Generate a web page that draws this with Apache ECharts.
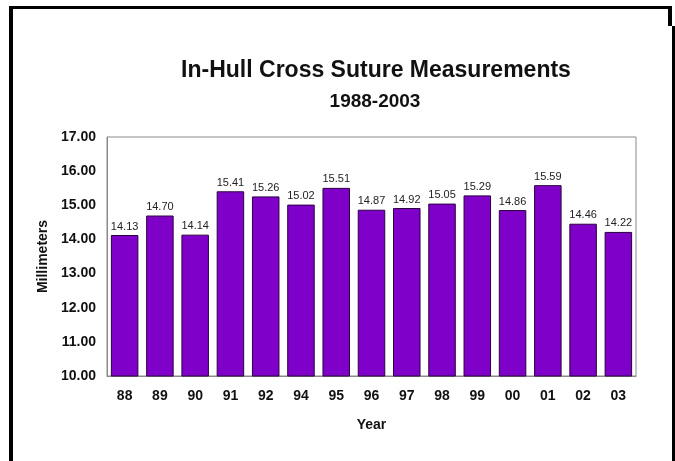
<!DOCTYPE html>
<html>
<head>
<meta charset="utf-8">
<script src="https://cdn.jsdelivr.net/npm/echarts@6/dist/echarts.min.js"></script>
<style>
  html, body { margin: 0; padding: 0; background: #fff; }
  #main { width: 675px; height: 461px; position: relative; }
  .frame { position: absolute; background: #000; }
</style>
</head>
<body>
<div id="main"></div>
<div class="frame" style="left:9px;top:6px;width:4px;height:455px"></div>
<div class="frame" style="left:9px;top:6px;width:663px;height:3px"></div>
<div class="frame" style="left:668px;top:6px;width:4px;height:20px"></div>
<div class="frame" style="left:672px;top:26px;width:3px;height:435px"></div>
<script>
  // values
  const years = ['88', '89', '90', '91', '92', '94', '95', '96', '97', '98', '99', '00', '01', '02', '03'];
  const mm = [14.13, 14.70, 14.14, 15.41, 15.26, 15.02, 15.51, 14.87, 14.92, 15.05, 15.29, 14.86, 15.59, 14.46, 14.22];
  const yMin = 10, yMax = 17, yStep = 1;

  let chart = echarts.init(document.getElementById('main'));
  let font = 'Liberation Sans, Arial, sans-serif';
  let option = {
    animation: false,
    title: [
      {
        text: 'In-Hull Cross Suture Measurements',
        left: 371, top: 54, textAlign: 'center',
        textStyle: { fontFamily: font, fontSize: 23, fontWeight: 'bold', color: '#111' }
      },
      {
        text: '1988-2003',
        left: 370, top: 87, textAlign: 'center',
        textStyle: { fontFamily: font, fontSize: 19, fontWeight: 'bold', color: '#111' }
      }
    ],
    grid: {
      left: 107, right: 39, top: 137, bottom: 85,
      show: true, borderColor: '#8a8a8a', borderWidth: 1
    },
    xAxis: {
      type: 'category',
      data: years,
      name: 'Year',
      nameLocation: 'middle',
      nameGap: 42,
      nameTextStyle: { fontFamily: font, fontSize: 14, fontWeight: 'bold', color: '#111' },
      axisLine: { lineStyle: { color: '#8a8a8a' } },
      axisTick: { show: false },
      axisLabel: { margin: 13, fontFamily: font, fontSize: 14, fontWeight: 'bold', color: '#111' }
    },
    yAxis: {
      type: 'value',
      min: yMin, max: yMax, interval: yStep,
      name: 'Millimeters',
      nameLocation: 'middle',
      nameGap: 56,
      nameTextStyle: { fontFamily: font, fontSize: 14, fontWeight: 'bold', color: '#111' },
      axisLine: { show: true, lineStyle: { color: '#8a8a8a' } },
      axisTick: { show: false },
      splitLine: { show: false },
      axisLabel: {
        margin: 11, fontFamily: font, fontSize: 14, fontWeight: 'bold', color: '#111',
        formatter: function (v) { return v.toFixed(2); }
      }
    },
    series: [
      {
        type: 'bar',
        data: mm,
        barCategoryGap: '22%',
        itemStyle: { color: '#7f00c8', borderColor: '#2a0040', borderWidth: 1 },
        label: {
          show: true, position: 'top', distance: 3,
          fontFamily: font, fontSize: 11, color: '#222',
          formatter: function (p) { return p.value.toFixed(2); }
        }
      }
    ]
  };
  chart.setOption(option);
</script>
</body>
</html>
